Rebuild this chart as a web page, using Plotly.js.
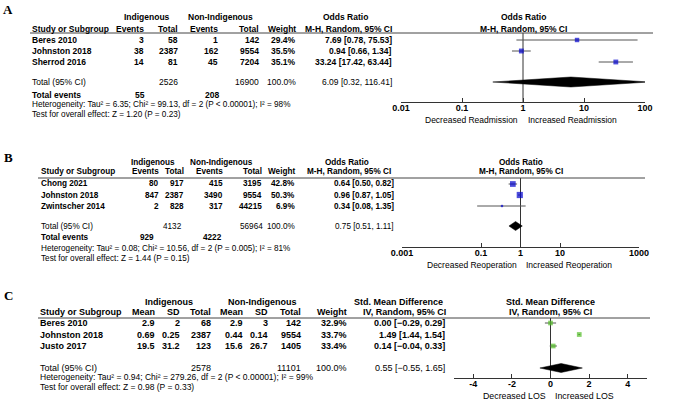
<!DOCTYPE html>
<html><head><meta charset="utf-8">
<script src="https://cdn.plot.ly/plotly-3.0.1.min.js"></script>
<style>html,body{margin:0;padding:0;background:#fff;} #chart{width:675px;height:407px;}</style>
</head><body><div id="chart"></div>
<script>
// ================= DATA =================
// Panel A – readmission (odds ratio)
const studiesA   = ['Beres 2010', 'Johnston 2018', 'Sherrod 2016'];
const indEventsA = [3, 38, 14];
const indTotalA  = [58, 2387, 81];
const nonEventsA = [1, 162, 45];
const nonTotalA  = [142, 9554, 7204];
const weightA    = [29.4, 35.5, 35.1];
const orA        = [7.69, 0.94, 33.24];
const loA        = [0.78, 0.66, 17.42];
const hiA        = [75.53, 1.34, 63.44];
const totalsA    = [2526, 16900];          // Indigenous total, Non-Indigenous total
const eventsA    = [55, 208];              // total events
const pooledA    = [6.09, 0.32, 116.41];   // estimate, low, high
const hetA  = 'Heterogeneity: Tau² = 6.35; Chi² = 99.13, df = 2 (P < 0.00001); I² = 98%';
const testA = 'Test for overall effect: Z = 1.20 (P = 0.23)';
const tickValsA = [0.01, 0.1, 1, 10, 100];
const tickTextA = ['0.01', '0.1', '1', '10', '100'];

// Panel B – reoperation (odds ratio)
const studiesB   = ['Chong 2021', 'Johnston 2018', 'Zwintscher 2014'];
const indEventsB = [80, 847, 2];
const indTotalB  = [917, 2387, 828];
const nonEventsB = [415, 3490, 317];
const nonTotalB  = [3195, 9554, 44215];
const weightB    = [42.8, 50.3, 6.9];
const orB        = [0.64, 0.96, 0.34];
const loB        = [0.50, 0.87, 0.08];
const hiB        = [0.82, 1.05, 1.35];
const totalsB    = [4132, 56964];
const eventsB    = [929, 4222];
const pooledB    = [0.75, 0.51, 1.11];
const hetB  = 'Heterogeneity: Tau² = 0.08; Chi² = 10.56, df = 2 (P = 0.005); I² = 81%';
const testB = 'Test for overall effect: Z = 1.44 (P = 0.15)';
const tickValsB = [0.001, 0.1, 1, 10, 1000];
const tickTextB = ['0.001', '0.1', '1', '10', '1000'];

// Panel C – length of stay (std. mean difference)
const studiesC  = ['Beres 2010', 'Johnston 2018', 'Justo 2017'];
const indMeanC  = ['2.9', '0.69', '19.5'];
const indSdC    = ['2', '0.25', '31.2'];
const indTotalC = [68, 2387, 123];
const nonMeanC  = ['2.9', '0.44', '15.6'];
const nonSdC    = ['3', '0.14', '26.7'];
const nonTotalC = [142, 9554, 1405];
const weightC   = [32.9, 33.7, 33.4];
const smdC      = [0.00, 1.49, 0.14];
const loC       = [-0.29, 1.44, -0.04];
const hiC       = [0.29, 1.54, 0.33];
const totalsC   = [2578, 11101];
const pooledC   = [0.55, -0.55, 1.65];
const hetC  = 'Heterogeneity: Tau² = 0.94; Chi² = 279.26, df = 2 (P < 0.00001); I² = 99%';
const testC = 'Test for overall effect: Z = 0.98 (P = 0.33)';
const tickValsC = [-4, -2, 0, 2, 4];
const tickTextC = ['-4', '-2', '0', '2', '4'];

// ================= LAYOUT HELPERS =================
const W = 675, H = 407;
const FAM = 'Liberation Sans, Arial, sans-serif';
const SERIF = 'Liberation Serif, Times New Roman, serif';
const ann = [];
const shapes = [];
const traces = [];

function T(text, x, y, anchor, opt) {
  opt = opt || {};
  ann.push({
    xref: 'paper', yref: 'paper', x: x / W, y: 1 - y / H,
    xanchor: anchor, yanchor: 'middle', showarrow: false, borderpad: 0,
    text: opt.bold ? '<b>' + text + '</b>' : text,
    font: {family: opt.family || FAM, size: opt.size || 8.5, color: '#000'}
  });
}
function hline(x0, x1, y) {
  shapes.push({type: 'line', xref: 'paper', yref: 'paper', x0: x0 / W, x1: x1 / W,
    y0: 1 - y / H, y1: 1 - y / H, line: {color: '#444', width: 1}});
}
function f2(v) { return (v < 0 ? '−' : '') + Math.abs(v).toFixed(2); }
function ci(e, l, h) { return f2(e) + ' [' + f2(l) + ', ' + f2(h) + ']'; }
function pct(w) { return w.toFixed(1) + '%'; }

function forest(o) {
  const yr = [(o.axisPx - o.firstPx) / o.step, (o.topPx - o.firstPx) / o.step];
  const totRow = (o.totalPx - o.firstPx) / o.step;
  const rows = o.est.map((_, i) => i);
  const xa = 'x' + o.id, ya = 'y' + o.id;
  // null-effect line
  traces.push({x: [o.nullVal, o.nullVal], y: yr, mode: 'lines', xaxis: xa, yaxis: ya,
    line: {color: '#333', width: 1}, hoverinfo: 'skip', showlegend: false});
  // CIs
  o.est.forEach((e, i) => {
    traces.push({x: [o.lo[i], o.hi[i]], y: [i, i], mode: 'lines', xaxis: xa, yaxis: ya,
      line: {color: '#555', width: 1}, hoverinfo: 'skip', showlegend: false});
  });
  // squares
  traces.push({x: o.est, y: rows, mode: 'markers', xaxis: xa, yaxis: ya,
    marker: {symbol: 'square', color: o.color, size: o.weight.map(w => o.sq * Math.sqrt(w / 50)), line: {width: 0}},
    hoverinfo: 'skip', showlegend: false});
  // diamond
  const h = o.dh / o.step;
  const p = o.pooled;
  traces.push({x: [p[1], p[0], p[2], p[0], p[1]], y: [totRow, totRow - h, totRow, totRow + h, totRow],
    mode: 'lines', fill: 'toself', fillcolor: '#000', line: {color: '#000', width: 0.5},
    xaxis: xa, yaxis: ya, hoverinfo: 'skip', showlegend: false});
  return {yr: yr};
}

const layout = {
  width: W, height: H, margin: {l: 0, r: 0, t: 0, b: 0},
  paper_bgcolor: '#fff', plot_bgcolor: 'rgba(0,0,0,0)',
  showlegend: false, hovermode: false
};
function xAxis(domain, type, range, tv, tt, anchor) {
  return {type: type, domain: [domain[0] / W, domain[1] / W], range: range, anchor: anchor,
    tickmode: 'array', tickvals: tv, ticktext: tt, ticks: 'inside', ticklen: 4, tickcolor: '#333',
    ticklabelstandoff: -3,
    showline: true, linecolor: '#333', linewidth: 1, showgrid: false, zeroline: false,
    tickfont: {family: FAM, size: 9, color: '#000', weight: 'bold'}, fixedrange: true};
}
function yAxis(topPx, botPx, range) {
  return {domain: [1 - botPx / H, 1 - topPx / H], range: range, visible: false,
    showgrid: false, zeroline: false, fixedrange: true};
}

// ================= PANEL A =================
{
  const P = {id: '', topPx: 33, axisPx: 102, firstPx: 40, step: 11, totalPx: 82};
  const r = forest(Object.assign({}, P, {est: orA, lo: loA, hi: hiA, weight: weightA, pooled: pooledA,
    nullVal: 1, color: '#0000CC', sq: 5.8, dh: 5}));
  layout.xaxis = xAxis([401, 645], 'log', [-2, 2], tickValsA, tickTextA, 'y');
  layout.yaxis = yAxis(P.topPx, P.axisPx, r.yr);
  T('A', 8, 10, 'center', {bold: true, size: 13, family: SERIF});
  T('Indigenous', 147, 17, 'center', {bold: true});
  T('Non-Indigenous', 220, 17, 'center', {bold: true});
  T('Odds Ratio', 345, 17, 'center', {bold: true});
  T('Odds Ratio', 523, 17, 'center', {bold: true});
  T('Study or Subgroup', 31, 29, 'left', {bold: true});
  const cols = [145, 179, 219, 260, 297];
  ['Events', 'Total', 'Events', 'Total', 'Weight'].forEach((t, j) => T(t, cols[j], 29, 'right', {bold: true}));
  T('M-H, Random, 95% CI', 348, 29, 'center', {bold: true});
  T('M-H, Random, 95% CI', 523, 29, 'center', {bold: true});
  hline(30, 653, 33);
  studiesA.forEach((s, i) => {
    const y = P.firstPx + i * P.step;
    T(s, 31, y, 'left', {bold: true});
    [indEventsA[i], indTotalA[i], nonEventsA[i], nonTotalA[i], pct(weightA[i])].forEach((v, j) =>
      T(String(v), cols[j], y, 'right', {bold: true}));
    T(ci(orA[i], loA[i], hiA[i]), 393, y, 'right', {bold: true});
  });
  T('Total (95% CI)', 31, P.totalPx, 'left');
  T(String(totalsA[0]), cols[1], P.totalPx, 'right');
  T(String(totalsA[1]), cols[3], P.totalPx, 'right');
  T('100.0%', cols[4], P.totalPx, 'right');
  T(ci(pooledA[0], pooledA[1], pooledA[2]), 393, P.totalPx, 'right');
  T('Total events', 31, 95, 'left', {bold: true});
  T(String(eventsA[0]), 146, 95, 'right', {bold: true});
  T(String(eventsA[1]), 220, 95, 'right', {bold: true});
  T(hetA, 31, 104, 'left', {size: 8.2});
  T(testA, 31, 114, 'left', {size: 8.2});
  T('Decreased Readmission', 519, 120, 'right', {size: 8.5});
  T('Increased Readmission', 527, 120, 'left', {size: 8.5});
}

// ================= PANEL B =================
{
  const P = {id: '2', topPx: 178, axisPx: 247, firstPx: 184, step: 11, totalPx: 226};
  const r = forest(Object.assign({}, P, {est: orB, lo: loB, hi: hiB, weight: weightB, pooled: pooledB,
    nullVal: 1, color: '#0000CC', sq: 6.2, dh: 4.5}));
  layout.xaxis2 = xAxis([402, 639], 'log', [-3, 3], tickValsB, tickTextB, 'y2');
  layout.yaxis2 = yAxis(P.topPx, P.axisPx, r.yr);
  const S = 8.2;
  T('B', 8, 157, 'center', {bold: true, size: 13, family: SERIF});
  T('Indigenous', 153, 162, 'center', {bold: true, size: S});
  T('Non-Indigenous', 221, 162, 'center', {bold: true, size: S});
  T('Odds Ratio', 347, 162, 'center', {bold: true, size: S});
  T('Odds Ratio', 521, 162, 'center', {bold: true, size: S});
  T('Study or Subgroup', 40, 172, 'left', {bold: true, size: S});
  const cols = [160, 185, 224, 263, 296];
  ['Events', 'Total', 'Events', 'Total', 'Weight'].forEach((t, j) => T(t, cols[j], 172, 'right', {bold: true, size: S}));
  T('M-H, Random, 95% CI', 349, 172, 'center', {bold: true, size: S});
  T('M-H, Random, 95% CI', 521, 172, 'center', {bold: true, size: S});
  hline(38, 645, 178);
  studiesB.forEach((s, i) => {
    const y = P.firstPx + i * P.step;
    T(s, 40, y, 'left', {bold: true, size: S});
    [indEventsB[i], indTotalB[i], nonEventsB[i], nonTotalB[i], pct(weightB[i])].forEach((v, j) =>
      T(String(v), cols[j], y, 'right', {bold: true, size: S}));
    T(ci(orB[i], loB[i], hiB[i]), 395, y, 'right', {bold: true, size: S});
  });
  T('Total (95% CI)', 40, P.totalPx, 'left', {size: S});
  T(String(totalsB[0]), 183, P.totalPx, 'right', {size: S});
  T(String(totalsB[1]), 264, P.totalPx, 'right', {size: S});
  T('100.0%', cols[4], P.totalPx, 'right', {size: S});
  T(ci(pooledB[0], pooledB[1], pooledB[2]), 395, P.totalPx, 'right', {size: S});
  T('Total events', 40, 237, 'left', {bold: true, size: S});
  T(String(eventsB[0]), 155, 237, 'right', {bold: true, size: S});
  T(String(eventsB[1]), 223, 237, 'right', {bold: true, size: S});
  T(hetB, 40, 248, 'left', {size: 8.2});
  T(testB, 40, 258, 'left', {size: 8.2});
  T('Decreased Reoperation', 518, 265, 'right', {size: 8.5});
  T('Increased Reoperation', 525, 265, 'left', {size: 8.5});
}

// ================= PANEL C =================
{
  const P = {id: '3', topPx: 318, axisPx: 378, firstPx: 323, step: 11.5, totalPx: 368};
  const r = forest(Object.assign({}, P, {est: smdC, lo: loC, hi: hiC, weight: weightC, pooled: pooledC,
    nullVal: 0, color: '#52BE26', sq: 5.8, dh: 4.5}));
  layout.xaxis3 = xAxis([454, 647], 'linear', [-5, 5], tickValsC, tickTextC, 'y3');
  layout.yaxis3 = yAxis(P.topPx, P.axisPx, r.yr);
  T('C', 8, 295, 'center', {bold: true, size: 13, family: SERIF});
  T('Indigenous', 169, 302, 'center', {bold: true, size: 9});
  T('Non-Indigenous', 262, 302, 'center', {bold: true, size: 9});
  T('Std. Mean Difference', 398, 302, 'center', {bold: true, size: 9});
  T('Std. Mean Difference', 550, 302, 'center', {bold: true, size: 9});
  T('Study or Subgroup', 39, 312, 'left', {bold: true, size: 9});
  const cols = [156, 181, 212, 244, 269, 302, 348];
  ['Mean', 'SD', 'Total', 'Mean', 'SD', 'Total', 'Weight'].forEach((t, j) => T(t, cols[j], 312, 'right', {bold: true, size: 9}));
  T('IV, Random, 95% CI', 404, 312, 'center', {bold: true, size: 9});
  T('IV, Random, 95% CI', 550, 312, 'center', {bold: true, size: 9});
  hline(38, 650, 318);
  studiesC.forEach((s, i) => {
    const y = P.firstPx + i * P.step;
    T(s, 39, y, 'left', {bold: true, size: 9});
    [indMeanC[i], indSdC[i], indTotalC[i], nonMeanC[i], nonSdC[i], nonTotalC[i], pct(weightC[i])].forEach((v, j) =>
      T(String(v), cols[j], y, 'right', {bold: true, size: 9}));
    T(ci(smdC[i], loC[i], hiC[i]), 446, y, 'right', {bold: true, size: 9});
  });
  T('Total (95% CI)', 39, P.totalPx, 'left', {size: 9});
  T(String(totalsC[0]), cols[2], P.totalPx, 'right', {size: 9});
  T(String(totalsC[1]), cols[5], P.totalPx, 'right', {size: 9});
  T('100.0%', cols[6], P.totalPx, 'right', {size: 9});
  T(ci(pooledC[0], pooledC[1], pooledC[2]), 446, P.totalPx, 'right', {size: 9});
  T(hetC, 39, 377, 'left', {size: 8.5});
  T(testC, 39, 387, 'left', {size: 8.5});
  T('Decreased LOS', 547, 396, 'right', {size: 8.8});
  T('Increased LOS', 554, 396, 'left', {size: 8.8});
}

layout.annotations = ann;
layout.shapes = shapes;
Plotly.newPlot('chart', traces, layout, {staticPlot: true, displayModeBar: false});
</script>
</body></html>
